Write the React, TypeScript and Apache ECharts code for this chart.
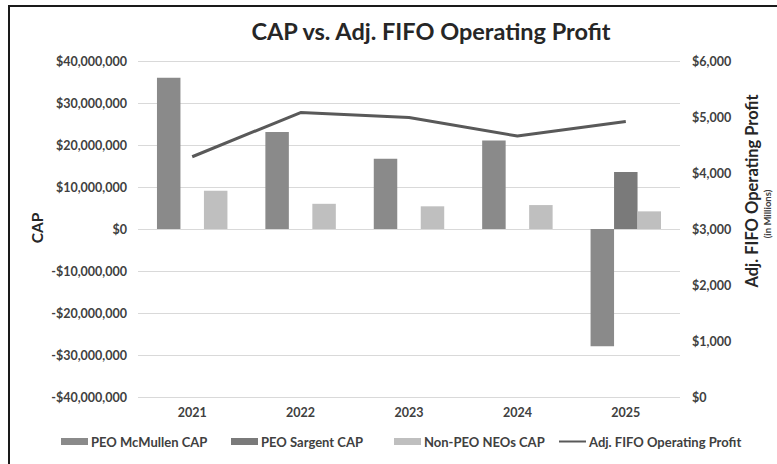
import React, { useEffect, useRef } from "react";
import * as echarts from "echarts";

const years = ["2021", "2022", "2023", "2024", "2025"];
const mcmullenCap = [36000000, 23100000, 16700000, 21100000, -27900000];
const sargentCap = [null, null, null, null, 13600000];
const nonPeoCap = [9100000, 6000000, 5400000, 5700000, 4200000];
const fifoProfit = [4290, 5080, 4990, 4660, 4920];

const seriesNames = ["PEO McMullen CAP", "PEO Sargent CAP", "Non-PEO NEOs CAP", "Adj. FIFO Operating Profit"];

const FONT = "Lato, 'Open Sans', sans-serif";

function money(v: number) {
  const s = Math.abs(v).toLocaleString("en-US");
  return (v < 0 ? "-$" : "$") + s;
}

export default function App() {
  const ref = useRef<HTMLDivElement>(null);
  useEffect(() => {
    document.body.style.margin = "0";
    const chart = echarts.init(ref.current!, null, { renderer: "svg" });
    const axisText = { fontFamily: FONT, fontSize: 12.5, fontWeight: "bold", color: "#404040" };
    const legendLefts = [56, 226, 389, 554];
    const legends = seriesNames.map((name, i) => ({
      bottom: 11,
      left: legendLefts[i],
      itemWidth: 27,
      itemHeight: 7,
      itemGap: 4,
      textStyle: { fontFamily: FONT, fontSize: 13, fontWeight: 700, color: "#404040", padding: [0, 0, 0, -2] },
      data: [
        i === 3
          ? { name, icon: "path://M0,0 L27,0 L27,2 L0,2 Z", itemStyle: { color: "#595959" } }
          : { name, icon: "rect" },
      ],
    }));
    chart.setOption({
      animation: false,
      backgroundColor: "#ffffff",
      textStyle: { fontFamily: FONT },
      title: {
        text: "CAP vs. Adj. FIFO Operating Profit",
        left: 426,
        top: 14,
        textAlign: "center",
        textStyle: { fontFamily: FONT, fontSize: 23.5, fontWeight: "bold", color: "#262626" },
      },
      grid: { left: 138, right: 97, top: 61, bottom: 67 },
      legend: legends,
      xAxis: {
        type: "category",
        data: years,
        axisLine: { show: false },
        axisTick: { show: false },
        axisLabel: { margin: 9, ...axisText },
      },
      yAxis: [
        {
          type: "value",
          min: -40000000,
          max: 40000000,
          interval: 10000000,
          axisLine: { show: false },
          axisTick: { show: false },
          splitLine: { lineStyle: { color: "#d9d9d9", width: 1 } },
          axisLabel: { margin: 11, formatter: (v: number) => money(v), ...axisText },
        },
        {
          type: "value",
          min: 0,
          max: 6000,
          interval: 1000,
          position: "right",
          axisLine: { show: false },
          axisTick: { show: false },
          splitLine: { show: false },
          axisLabel: { margin: 12, formatter: (v: number) => money(v), ...axisText },
        },
      ],
      series: [
        {
          name: seriesNames[0],
          type: "bar",
          data: mcmullenCap,
          barGap: "0%",
          barCategoryGap: "35%",
          itemStyle: { color: "#8a8a8a" },
        },
        {
          name: seriesNames[1],
          type: "bar",
          data: sargentCap,
          itemStyle: { color: "#7a7a7a" },
        },
        {
          name: seriesNames[2],
          type: "bar",
          data: nonPeoCap,
          itemStyle: { color: "#bfbfbf" },
        },
        {
          name: seriesNames[3],
          type: "line",
          yAxisIndex: 1,
          data: fifoProfit,
          symbol: "none",
          lineStyle: { color: "#595959", width: 3 },
          itemStyle: { color: "#595959" },
        },
      ],
      graphic: [
        {
          type: "polyline",
          shape: { points: [[9, 464], [9, 6], [777, 6]] },
          style: { stroke: "#1a1a1a", lineWidth: 2, fill: "none" },
        },
        {
          type: "text",
          x: 37,
          y: 228,
          rotation: Math.PI / 2,
          style: {
            text: "CAP",
            fontFamily: FONT,
            fontSize: 15.5,
            fontWeight: "bold",
            fill: "#262626",
            align: "center",
            verticalAlign: "middle",
          },
        },
        {
          type: "text",
          x: 752,
          y: 191,
          rotation: Math.PI / 2,
          style: {
            text: "Adj. FIFO Operating Profit",
            fontFamily: FONT,
            fontSize: 16.5,
            fontWeight: "bold",
            fill: "#262626",
            align: "center",
            verticalAlign: "middle",
          },
        },
        {
          type: "text",
          x: 767,
          y: 214,
          rotation: Math.PI / 2,
          style: {
            text: "(in Millions)",
            fontFamily: FONT,
            fontSize: 9.5,
            fontWeight: "bold",
            fill: "#404040",
            align: "center",
            verticalAlign: "middle",
          },
        },
      ],
    });
    return () => chart.dispose();
  }, []);
  return <div ref={ref} style={{ width: 777, height: 464 }} />;
}
